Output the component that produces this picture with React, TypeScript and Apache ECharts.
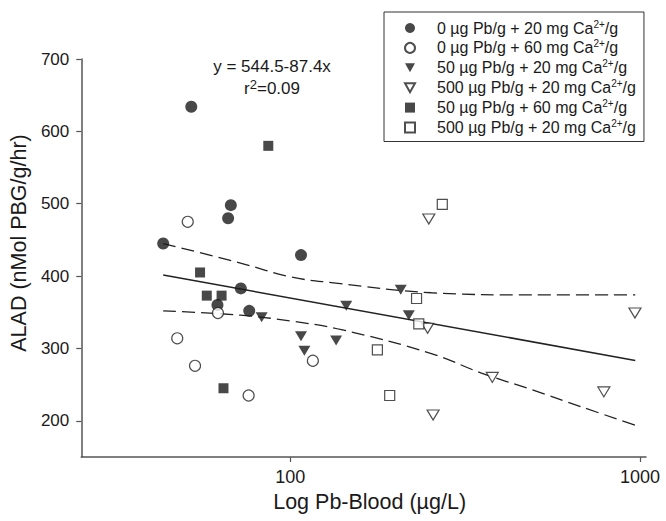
import React, { useEffect, useRef } from "react";
import * as echarts from "echarts";

const FONT = '"Liberation Sans", Arial, Helvetica, sans-serif';
const INK = "#1a1a1a";

// Legend labels (display text)
const legendLabels = [
  "0 µg Pb/g + 20 mg Ca2+/g",
  "0 µg Pb/g + 60 mg Ca2+/g",
  "50 µg Pb/g + 20 mg Ca2+/g",
  "500 µg Pb/g + 20 mg Ca2+/g",
  "50 µg Pb/g + 60 mg Ca2+/g",
  "500 µg Pb/g + 20 mg Ca2+/g",
];
const seriesIds = ["g0", "g1", "g2", "g3", "g4", "g5"];

// [Pb-Blood µg/L, ALAD]
const filledCircle = [[43.3, 445], [52.1, 634], [67.6, 498], [66.4, 480], [107.3, 429], [72.2, 383], [61.9, 360], [76.3, 352]];
const openCircle = [[50.9, 475], [62.1, 349], [47.5, 314], [53.4, 276], [76.0, 235], [116, 283]];
const filledTriangle = [[82.8, 343], [107.3, 317], [109.7, 297], [135.2, 311], [144.5, 359], [206.9, 381], [218.2, 346]];
const openTriangle = [[248.9, 479], [246.9, 328], [378, 260], [256, 208], [788, 240], [967, 349]];
const filledSquare = [[86.5, 580], [55.2, 405], [57.7, 373], [63.6, 373], [64.4, 245]];
const openSquare = [[272, 499], [229.6, 369], [233, 334], [177.4, 298], [192.4, 235]];

const regression = [[43.3, 401.5], [969, 283.5]];
const upperBand = [[43.3, 445], [72, 418], [100, 399], [131, 391], [253, 377], [491, 374], [969, 374]];
const lowerBand = [[43.3, 352], [72, 346], [100, 338], [140, 326], [253, 293], [352, 266], [491, 243], [682, 219], [969, 194]];

const yTicks = [200, 300, 400, 500, 600, 700];
const xTicks = [100, 1000];
const xRange = [25.25, 1040];
const yRange = [150, 700];

const lg = (pts: number[][]) => pts.map(([x, y]) => [Math.log10(x), y]);

const DOWN_TRI = "path://M0,0 L10,0 L5,9 Z";

export default function App() {
  const ref = useRef<HTMLDivElement>(null);
  useEffect(() => {
    if (!ref.current) return;
    const chart = echarts.init(ref.current, null, { renderer: "svg" });

    const filled = { color: INK, borderWidth: 0 };
    const open = { color: "#ffffff", borderColor: "#222", borderWidth: 1.2 };
    const groups = [
      { data: filledCircle, symbol: "circle", size: 12, style: filled },
      { data: openCircle, symbol: "circle", size: 11, style: open },
      { data: filledTriangle, symbol: DOWN_TRI, size: [12, 10], style: filled },
      { data: openTriangle, symbol: DOWN_TRI, size: [12, 10], style: open },
      { data: filledSquare, symbol: "rect", size: 10, style: filled },
      { data: openSquare, symbol: "rect", size: 10, style: open },
    ];

    const lineBase = {
      type: "line",
      showSymbol: false,
      symbol: "none",
      silent: true,
      z: 1,
    };

    const option = {
      animation: false,
      backgroundColor: "#ffffff",
      textStyle: { fontFamily: FONT },
      grid: { left: 80, right: 20, top: 59, bottom: 64, containLabel: false },
      xAxis: {
        type: "value",
        min: Math.log10(xRange[0]),
        max: Math.log10(xRange[1]),
        name: "Log Pb-Blood (µg/L)",
        nameLocation: "middle",
        nameGap: 31,
        nameTextStyle: { fontSize: 21.5, color: INK, fontFamily: FONT, padding: [0, 0, 0, 12] },
        axisLine: { show: true, onZero: false, lineStyle: { color: "#555", width: 1.5 } },
        axisTick: { show: true, inside: false, length: 5, lineStyle: { color: "#555", width: 1.2 }, customValues: xTicks.map((v) => Math.log10(v)) },
        axisLabel: {
          fontSize: 18,
          color: INK,
          fontFamily: FONT,
          margin: 11,
          customValues: xTicks.map((v) => Math.log10(v)),
          formatter: (v: number) => String(Math.round(Math.pow(10, v))),
        },
        splitLine: { show: false },
      },
      yAxis: {
        type: "value",
        min: yRange[0],
        max: yRange[1],
        name: "ALAD (nMol PBG/g/hr)",
        nameLocation: "middle",
        nameGap: 32,
        nameTextStyle: { fontSize: 21.5, color: INK, fontFamily: FONT, padding: [0, 0, 0, 30] },
        axisLine: { show: true, onZero: false, lineStyle: { color: "#555", width: 1.5 } },
        axisTick: { show: true, inside: false, length: 5, lineStyle: { color: "#555", width: 1.2 }, customValues: yTicks },
        axisLabel: { fontSize: 17, color: INK, fontFamily: FONT, margin: 12, customValues: yTicks },
        splitLine: { show: false },
      },
      legend: {
        orient: "vertical",
        left: 384,
        top: 12,
        padding: [7, 8, 6, 20],
        itemWidth: 10,
        itemHeight: 10,
        itemGap: 2.9,
        borderColor: "#333",
        borderWidth: 1,
        backgroundColor: "#ffffff",
        data: seriesIds,
        selectedMode: false,
        formatter: (name: string) => {
          const label = legendLabels[seriesIds.indexOf(name)] || name;
          const [a, b] = label.split("Ca2+");
          return `{sp|}{t|${a}Ca}{s|2+}{t|${b}}`;
        },
        textStyle: {
          color: INK,
          fontFamily: FONT,
          fontSize: 16,
          rich: {
            sp: { width: 17, lineHeight: 18 },
            t: { fontSize: 16, lineHeight: 18, fontFamily: FONT, color: INK },
            s: { fontSize: 10, lineHeight: 8, verticalAlign: "top", fontFamily: FONT, color: INK },
          },
        },
      },
      graphic: [
        {
          type: "text",
          x: 272,
          y: 66,
          style: {
            text: "y = 544.5-87.4x",
            fontSize: 17,
            fontFamily: FONT,
            fill: INK,
            textAlign: "center",
            textVerticalAlign: "middle",
          },
        },
        {
          type: "text",
          x: 272,
          y: 88,
          style: {
            text: "{t|r}{s|2}{t|=0.09}",
            fontSize: 17,
            fontFamily: FONT,
            fill: INK,
            textAlign: "center",
            textVerticalAlign: "middle",
            rich: {
              t: { fontSize: 17, lineHeight: 20, fontFamily: FONT, fill: INK },
              s: { fontSize: 13, lineHeight: 12, verticalAlign: "top", fontFamily: FONT, fill: INK },
            },
          },
        },
      ],
      series: [
        { ...lineBase, name: "fit", data: lg(regression), lineStyle: { color: "#222", width: 1.5, type: "solid" } },
        { ...lineBase, name: "upper", data: lg(upperBand), smooth: 0.4, lineStyle: { color: "#222", width: 1.3, type: [13, 6] } },
        { ...lineBase, name: "lower", data: lg(lowerBand), smooth: 0.4, lineStyle: { color: "#222", width: 1.3, type: [13, 6] } },
        ...groups.map((g, i) => ({
          type: "scatter",
          name: seriesIds[i],
          data: lg(g.data),
          symbol: g.symbol,
          symbolSize: g.size,
          itemStyle: g.style,
          z: 3,
        })),
      ],
    };

    chart.setOption(option as any);
    return () => chart.dispose();
  }, []);

  return (
    <div
      ref={ref}
      style={{ position: "fixed", left: 0, top: 0, width: 666, height: 521, background: "#fff" }}
    />
  );
}
